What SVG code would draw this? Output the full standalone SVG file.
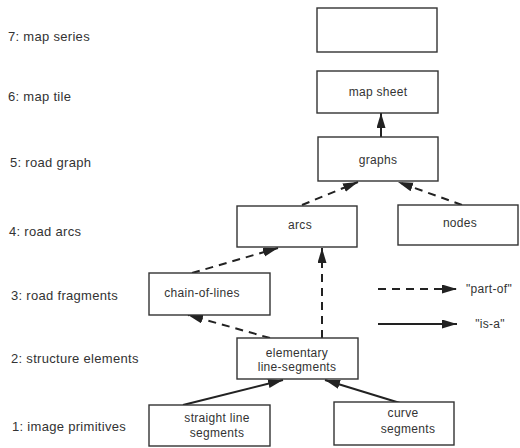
<svg xmlns="http://www.w3.org/2000/svg" width="520" height="448" viewBox="0 0 520 448">
<style>
text{font-family:"Liberation Sans",Arial,sans-serif;fill:#333;}
.lbl{font-size:13px;letter-spacing:0.3px;}
.nt{font-size:12px;text-anchor:middle;letter-spacing:0.3px;}
.box{fill:#fff;stroke:#333;stroke-width:1.4;}
.solid{stroke:#222;stroke-width:2;fill:none;}
.dash{stroke:#222;stroke-width:2;fill:none;stroke-dasharray:8 6;}
</style>
<defs>
<marker id="ah" markerUnits="userSpaceOnUse" markerWidth="16" markerHeight="10" refX="15" refY="4.5" orient="auto">
<path d="M0,0 L15,4.5 L0,9 z" fill="#222"/>
</marker>
</defs>
<rect width="520" height="448" fill="#fff"/>
<g id="levels">
<text class="lbl" x="8" y="41">7: map series</text>
<text class="lbl" x="8" y="101">6: map tile</text>
<text class="lbl" x="10" y="167">5: road graph</text>
<text class="lbl" x="9" y="236">4: road arcs</text>
<text class="lbl" x="11" y="300">3: road fragments</text>
<text class="lbl" x="11" y="363">2: structure elements</text>
<text class="lbl" x="12" y="431">1: image primitives</text>
</g>
<g id="connectors">
<line class="solid" x1="381" y1="137" x2="381" y2="113" marker-end="url(#ah)"/>
<line class="dash" x1="302" y1="205" x2="358" y2="182" marker-end="url(#ah)"/>
<line class="dash" x1="462" y1="205" x2="398" y2="182" marker-end="url(#ah)"/>
<line class="dash" x1="192" y1="273" x2="278" y2="248" marker-end="url(#ah)"/>
<line class="dash" x1="322" y1="338" x2="322" y2="248" marker-end="url(#ah)"/>
<line class="dash" x1="270" y1="338" x2="188" y2="315" marker-end="url(#ah)"/>
<line class="solid" x1="183" y1="405" x2="283" y2="380" marker-end="url(#ah)"/>
<line class="solid" x1="400" y1="403" x2="325" y2="380" marker-end="url(#ah)"/>
</g>
<g id="map-series"><rect class="box" x="317" y="8" width="120" height="44"/></g>
<g id="map-sheet"><rect class="box" x="317" y="71" width="121" height="42"/><text class="nt" x="378" y="96">map sheet</text></g>
<g id="graphs"><rect class="box" x="318" y="137" width="120" height="44"/><text class="nt" x="378" y="164">graphs</text></g>
<g id="arcs"><rect class="box" x="237" y="206" width="120" height="41"/><text class="nt" x="300" y="229">arcs</text></g>
<g id="nodes"><rect class="box" x="398" y="205" width="120" height="40"/><text class="nt" x="460" y="227">nodes</text></g>
<g id="chain-of-lines"><rect class="box" x="149" y="273" width="121" height="42"/><text class="nt" x="202" y="297">chain-of-lines</text></g>
<g id="elementary"><rect class="box" x="237" y="338" width="121" height="41"/><text class="nt" x="297" y="357">elementary</text><text class="nt" x="297" y="371">line-segments</text></g>
<g id="straight"><rect class="box" x="149" y="405" width="121" height="41"/><text class="nt" x="217" y="422">straight line</text><text class="nt" x="217" y="437">segments</text></g>
<g id="curve"><rect class="box" x="334" y="402" width="120" height="43"/><text class="nt" x="403" y="417">curve</text><text class="nt" x="408" y="433">segments</text></g>
<g id="legend">
<line class="dash" x1="378" y1="289" x2="457" y2="289" marker-end="url(#ah)"/>
<line class="solid" x1="378" y1="324" x2="457" y2="324" marker-end="url(#ah)"/>
<text class="nt" x="489" y="293">"part-of"</text>
<text class="nt" x="490" y="328">"is-a"</text>
</g>
</svg>
